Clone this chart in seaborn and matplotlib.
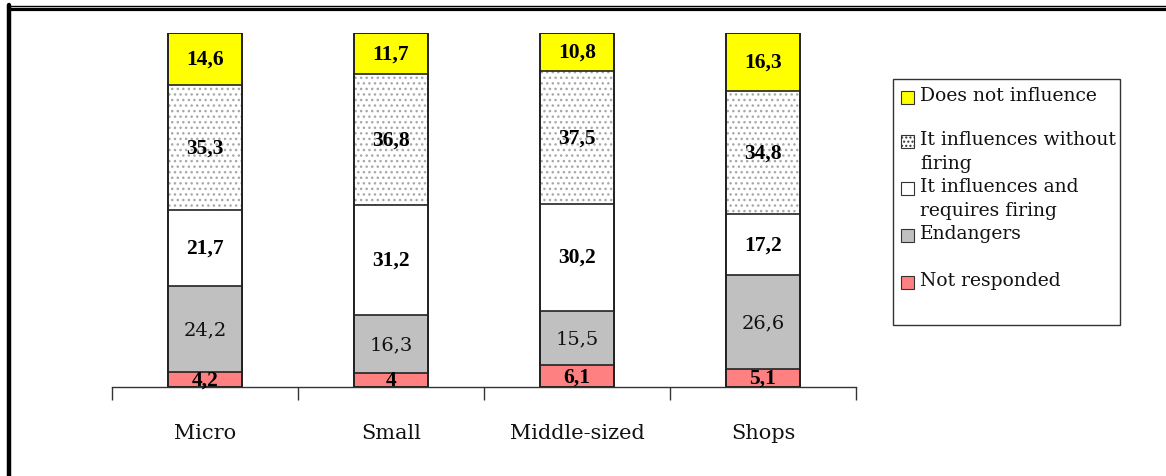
import matplotlib
matplotlib.use("Agg")
import matplotlib.pyplot as plt
import seaborn as sns
import numpy as np
import pandas as pd
from matplotlib.patches import Rectangle
from matplotlib.lines import Line2D

categories = ["Micro", "Small", "Middle-sized", "Shops"]
not_responded = [4.2, 4.0, 6.1, 5.1]
endangers = [24.2, 16.3, 15.5, 26.6]
requires_firing = [21.7, 31.2, 30.2, 17.2]
without_firing = [35.3, 36.8, 37.5, 34.8]
does_not_influence = [14.6, 11.7, 10.8, 16.3]

series_names = ["Not responded", "Endangers", "It influences and\nrequires firing",
                "It influences without\nfiring", "Does not influence"]
series_values = [not_responded, endangers, requires_firing, without_firing, does_not_influence]
series_colors = ["#FF8080", "#C0C0C0", "#FFFFFF", "#FFFFFF", "#FFFF00"]
series_bold = [True, False, True, True, True]

sns.set_theme(style="white")
plt.rcParams["font.family"] = ["DejaVu Serif"]
plt.rcParams["hatch.linewidth"] = 1.0

fig = plt.figure(figsize=(11.66, 4.77), dpi=100)
ax = fig.add_axes([112 / 1166, 89 / 477, 744 / 1166, 354 / 477])

vals = np.array(series_values)
cum = np.cumsum(vals, axis=0)
df = pd.DataFrame({"cat": categories})

bw = 0.40
# draw layers from top to bottom (overlapping cumulative bars)
for k in range(len(series_names) - 1, -1, -1):
    df["v"] = cum[k]
    n0 = len(ax.patches)
    sns.barplot(data=df, x="cat", y="v", color=series_colors[k], saturation=1,
                width=bw, ax=ax, errorbar=None)
    for p in ax.patches[n0:]:
        p.set_facecolor(series_colors[k])
        if k == 3:
            p.set_hatch("...")
            p.set_edgecolor("#a8a8a8")
            p.set_linewidth(0)
        else:
            p.set_edgecolor("#222222")
            p.set_linewidth(1.2)
    if k == 3:
        n1 = len(ax.patches)
        sns.barplot(data=df, x="cat", y="v", color="white", saturation=1,
                    width=bw, ax=ax, errorbar=None)
        for p in ax.patches[n1:]:
            p.set_facecolor("none")
            p.set_edgecolor("#222222")
            p.set_linewidth(1.2)

# outline of full bars
df["v"] = cum[-1]
n1 = len(ax.patches)
sns.barplot(data=df, x="cat", y="v", color="white", saturation=1, width=bw, ax=ax, errorbar=None)
for p in ax.patches[n1:]:
    p.set_facecolor("none")
    p.set_edgecolor("#222222")
    p.set_linewidth(1.2)

# value labels
for k in range(len(series_names)):
    for i in range(len(categories)):
        v = vals[k, i]
        y = cum[k, i] - v / 2
        s = f"{v:g}".replace(".", ",")
        if series_bold[k]:
            ax.text(i, y, s, ha="center", va="center", fontsize=15.5, fontweight="bold",
                    family="Liberation Serif", color="black")
        else:
            ax.text(i, y, s, ha="center", va="center", fontsize=14,
                    family="DejaVu Serif", color="#111111")

ax.set_xlim(-0.5, len(categories) - 0.5)
ax.set_ylim(0, 100)
ax.set_xlabel("")
ax.set_ylabel("")
ax.set_yticks([])
for s in ["top", "right", "left"]:
    ax.spines[s].set_visible(False)
ax.spines["bottom"].set_color("#333333")
ax.spines["bottom"].set_linewidth(1.0)
ax.set_xticks(range(len(categories)))
ax.set_xticklabels(categories, fontsize=15, family="DejaVu Serif", color="#111111")
ax.set_xticks(np.arange(-0.5, len(categories)), minor=True)
ax.tick_params(axis="x", which="major", length=0, pad=26)
ax.tick_params(axis="x", which="minor", length=9, width=1.0, color="#333333", direction="out", bottom=True)

# legend (manual box)
W, H = 1166, 477
def fx(x): return x / W
def fy(y): return 1 - y / H
fig.add_artist(Rectangle((fx(893), fy(326)), fx(1120) - fx(893), fy(80) - fy(326),
                         transform=fig.transFigure, facecolor="white", edgecolor="#333333", lw=1.0))
leg_order = [4, 3, 2, 1, 0]
rows = [99, 143, 190, 237, 284]
for r, k in zip(rows, leg_order):
    sq = Rectangle((fx(901), fy(r + 6)), fx(914) - fx(901), fy(r - 7) - fy(r + 6),
                   transform=fig.transFigure, facecolor=series_colors[k],
                   edgecolor="#333333", lw=0.8, hatch="...." if k == 3 else None)
    fig.add_artist(sq)
    fig.text(fx(920), fy(r - 12), series_names[k], ha="left", va="top", fontsize=13.5,
             family="DejaVu Serif", linespacing=1.45, color="#111111")

# figure border lines
fig.add_artist(Line2D([fx(7), 1], [fy(6.5), fy(6.5)], transform=fig.transFigure, color="black", lw=1.0))
fig.add_artist(Line2D([fx(9), 1], [fy(10), fy(10)], transform=fig.transFigure, color="black", lw=2.3))
fig.add_artist(Line2D([fx(9), fx(9)], [fy(6), 0], transform=fig.transFigure, color="black", lw=3.2))

fig.savefig("out.png", dpi=100, facecolor="white")
